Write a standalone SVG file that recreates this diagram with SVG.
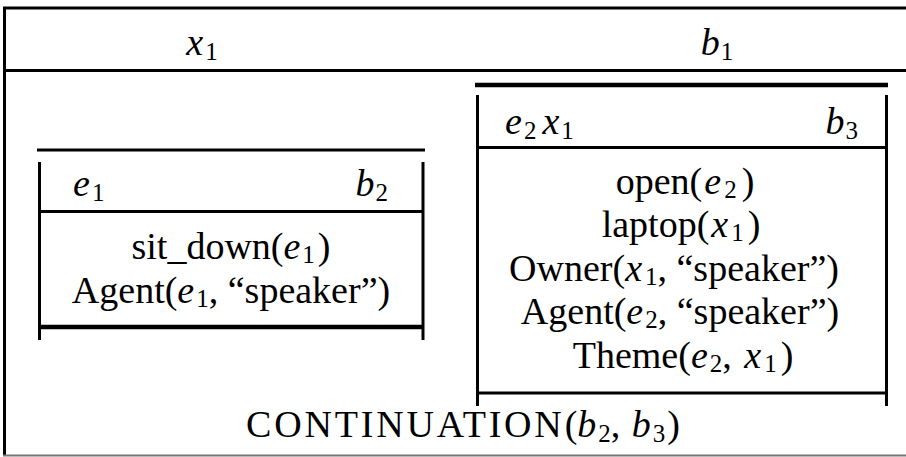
<svg xmlns="http://www.w3.org/2000/svg" width="906" height="457" viewBox="0 0 906 457">
<style>
text{font-family:'Liberation Serif','Times New Roman',serif;font-size:38px;fill:#000}
.i{font-style:italic}
.s{font-size:25px}
.c{text-anchor:middle}
.e{text-anchor:end}
.ln{stroke:#000;stroke-width:3;fill:none}
.tk{stroke:#000;stroke-width:4.5;fill:none}
</style>
<rect width="906" height="457" fill="#fff"/>
<g id="outer-box">
  <line class="ln" x1="3" y1="8" x2="906" y2="8" stroke-width="2.5"/>
  <line class="ln" x1="4.5" y1="7" x2="4.5" y2="456"/>
  <line class="ln" x1="3" y1="70.5" x2="906" y2="70.5" stroke-width="2.5"/>
  <line x1="3" y1="455.5" x2="906" y2="455.5" stroke="#777" stroke-width="2"/>
  <text x="202" y="55" class="c"><tspan class="i">x</tspan><tspan class="s" dx="2" dy="5">1</tspan></text>
  <text x="717" y="55" class="c"><tspan class="i">b</tspan><tspan class="s" dx="1" dy="5">1</tspan></text>
</g>
<g id="drs-b2">
  <line class="ln" x1="37" y1="150" x2="425" y2="150"/>
  <line class="ln" x1="39.5" y1="162" x2="39.5" y2="340"/>
  <line class="ln" x1="423" y1="162" x2="423" y2="340"/>
  <line class="ln" x1="39" y1="211.5" x2="423" y2="211.5"/>
  <line class="tk" x1="39" y1="327" x2="423" y2="327"/>
  <text x="73" y="196"><tspan class="i">e</tspan><tspan class="s" dx="2" dy="5">1</tspan></text>
  <text x="388" y="196" class="e"><tspan class="i">b</tspan><tspan class="s" dx="1" dy="5">2</tspan></text>
  <text x="231" y="259" class="c">sit_down(<tspan class="i">e</tspan><tspan class="s" dx="2" dy="4">1</tspan><tspan dx="3" dy="-4">)</tspan></text>
  <text x="231" y="302.5" class="c">Agent(<tspan class="i">e</tspan><tspan class="s" dx="2" dy="4">1</tspan><tspan dy="-4">, “speaker”)</tspan></text>
</g>
<g id="drs-b3">
  <line class="tk" x1="475" y1="85" x2="888" y2="85"/>
  <line class="ln" x1="477.5" y1="95" x2="477.5" y2="406"/>
  <line class="ln" x1="886.5" y1="95" x2="886.5" y2="406"/>
  <line class="ln" x1="477" y1="147.5" x2="887" y2="147.5"/>
  <line class="ln" x1="477" y1="393" x2="887" y2="393"/>
  <text x="505" y="134"><tspan class="i">e</tspan><tspan class="s" dx="2" dy="5">2</tspan><tspan class="i" dx="6" dy="-5">x</tspan><tspan class="s" dx="2" dy="5">1</tspan></text>
  <text x="858" y="134" class="e"><tspan class="i">b</tspan><tspan class="s" dx="1" dy="5">3</tspan></text>
  <text x="685" y="194" class="c">open(<tspan class="i" dx="2">e</tspan><tspan class="s" dx="3" dy="4">2</tspan><tspan dx="5" dy="-4">)</tspan></text>
  <text x="681" y="237" class="c">laptop(<tspan class="i" dx="2">x</tspan><tspan class="s" dx="3" dy="4">1</tspan><tspan dx="4" dy="-4">)</tspan></text>
  <text x="674" y="280.5" class="c">Owner(<tspan class="i">x</tspan><tspan class="s" dx="3" dy="4">1</tspan><tspan dy="-4">, “speaker”)</tspan></text>
  <text x="680" y="324" class="c">Agent(<tspan class="i">e</tspan><tspan class="s" dx="2" dy="4">2</tspan><tspan dy="-4">, “speaker”)</tspan></text>
  <text x="683" y="367.5" class="c">Theme(<tspan class="i">e</tspan><tspan class="s" dx="2" dy="4">2</tspan><tspan dy="-4">, </tspan><tspan class="i" dx="3">x</tspan><tspan class="s" dx="3" dy="4">1</tspan><tspan dx="4" dy="-4">)</tspan></text>
</g>
<g id="condition">
  <text x="463" y="437" class="c"><tspan letter-spacing="2.8">CONTINUATION</tspan>(<tspan class="i">b</tspan><tspan class="s" dx="2" dy="5">2</tspan><tspan dy="-5">, </tspan><tspan class="i" dx="2">b</tspan><tspan class="s" dx="2" dy="5">3</tspan><tspan dx="2" dy="-5">)</tspan></text>
</g>
</svg>
